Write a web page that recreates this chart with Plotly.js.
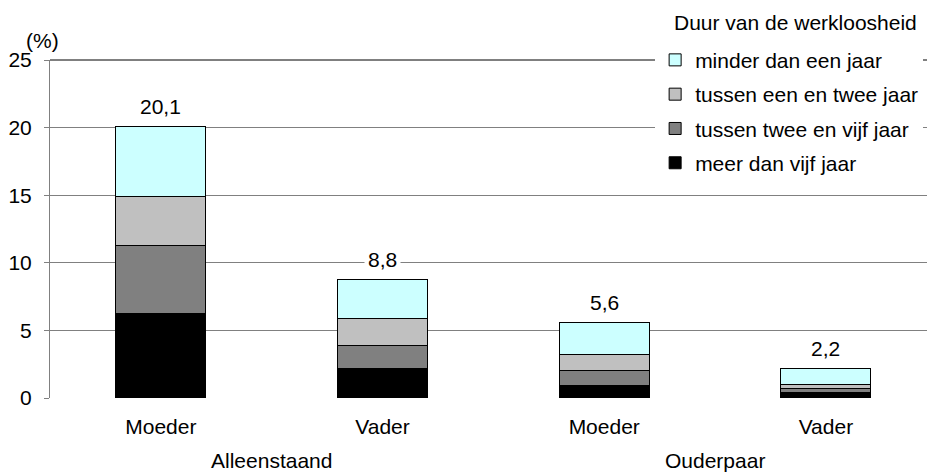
<!DOCTYPE html>
<html>
<head>
<meta charset="utf-8">
<script src="https://cdn.plot.ly/plotly-3.0.1.min.js"></script>
<style>html,body{margin:0;padding:0;background:#fff;}#chart{width:927px;height:472px;}</style>
</head>
<body>
<div id="chart"></div>
<script>
// ---- data ----
const categories = ['Moeder', 'Vader', 'Moeder', 'Vader'];
const groups = ['Alleenstaand', 'Ouderpaar'];
const groupOf = [0, 0, 1, 1];
const seriesNames = ['meer dan vijf jaar', 'tussen twee en vijf jaar', 'tussen een en twee jaar', 'minder dan een jaar'];
const meerDanVijf = [6.25, 2.2, 0.9, 0.4];
const tweeTotVijf = [5.0, 1.7, 1.15, 0.3];
const eenTotTwee = [3.65, 2.0, 1.2, 0.3];
const minderDanEen = [5.2, 2.9, 2.35, 1.2];
const totals = [20.1, 8.8, 5.6, 2.2];
const yTicks = [0, 5, 10, 15, 20, 25];
const legendTitle = 'Duur van de werkloosheid';
const unitLabel = '(%)';

// ---- styles ----
const FONT = 'Arial, Liberation Sans, sans-serif';
const FS = 21;
const colors = ['#000000', '#808080', '#C0C0C0', '#CCFFFF'];
const seriesValues = [meerDanVijf, tweeTotVijf, eenTotTwee, minderDanEen];
const xIdx = categories.map((_, i) => i);

const traces = seriesValues.map((vals, k) => ({
  type: 'bar',
  name: seriesNames[k],
  legendgroup: 'g' + k,
  legendrank: 1000 - k,
  x: xIdx,
  y: vals,
  width: 0.406,
  marker: {color: colors[k], line: {color: '#000000', width: 1}},
  hoverinfo: 'skip'
}));

const annotations = [];
totals.forEach((t, i) => {
  annotations.push({
    x: i, y: t, xref: 'x', yref: 'y',
    text: t.toFixed(1).replace('.', ','),
    showarrow: false, yanchor: 'bottom', yshift: 4,
    bgcolor: '#ffffff', borderpad: 3,
    font: {family: FONT, size: FS, color: '#000'}
  });
});
groups.forEach((g, gi) => {
  const members = xIdx.filter(i => groupOf[i] === gi);
  const cx = members.reduce((a, b) => a + b, 0) / members.length;
  annotations.push({
    x: cx, y: -0.186, xref: 'x', yref: 'paper',
    text: g, showarrow: false, yanchor: 'middle',
    font: {family: FONT, size: FS, color: '#000'}
  });
});
annotations.push({
  x: 0, y: 1, xref: 'paper', yref: 'paper', text: unitLabel,
  showarrow: false, xanchor: 'center', yanchor: 'bottom', xshift: -8, yshift: 6,
  font: {family: FONT, size: FS, color: '#000'}
});
// legend title as its own text
annotations.push({
  x: 0.709, y: 1.112, xref: 'paper', yref: 'paper', text: legendTitle,
  showarrow: false, xanchor: 'left', yanchor: 'middle',
  font: {family: FONT, size: FS, color: '#000'}
});

const layout = {
  width: 927, height: 472,
  margin: {l: 50, r: 0, t: 60, b: 74, autoexpand: false},
  paper_bgcolor: '#ffffff', plot_bgcolor: '#ffffff',
  barmode: 'stack',
  font: {family: FONT, size: FS, color: '#000'},
  showlegend: true,
  legend: {
    x: 0.69, y: 1.06, xanchor: 'left', yanchor: 'top',
    traceorder: 'grouped', bgcolor: '#ffffff', borderwidth: 0,
    tracegroupgap: 4,
    font: {family: FONT, size: FS}
  },
  xaxis: {
    range: [-0.5, 3.456], tickvals: xIdx, ticktext: categories,
    showgrid: false, zeroline: false, showline: false,
    ticks: '', ticklabelstandoff: 14,
    tickfont: {family: FONT, size: FS}
  },
  yaxis: {
    range: [0, 25], tickvals: yTicks, ticktext: yTicks.map(String),
    showgrid: true, gridcolor: '#808080', gridwidth: 1,
    zeroline: false, showline: true, linecolor: '#808080', linewidth: 1,
    ticks: 'outside', ticklen: 5, tickcolor: '#808080', ticklabelstandoff: 8,
    tickfont: {family: FONT, size: FS}
  },
  shapes: [{type: 'line', xref: 'paper', yref: 'paper', x0: 0, x1: 1, y0: 1, y1: 1,
            line: {color: '#000000', width: 1}, layer: 'below'}],
  annotations: annotations
};

Plotly.newPlot('chart', traces, layout, {displayModeBar: false, staticPlot: true});
</script>
</body>
</html>
